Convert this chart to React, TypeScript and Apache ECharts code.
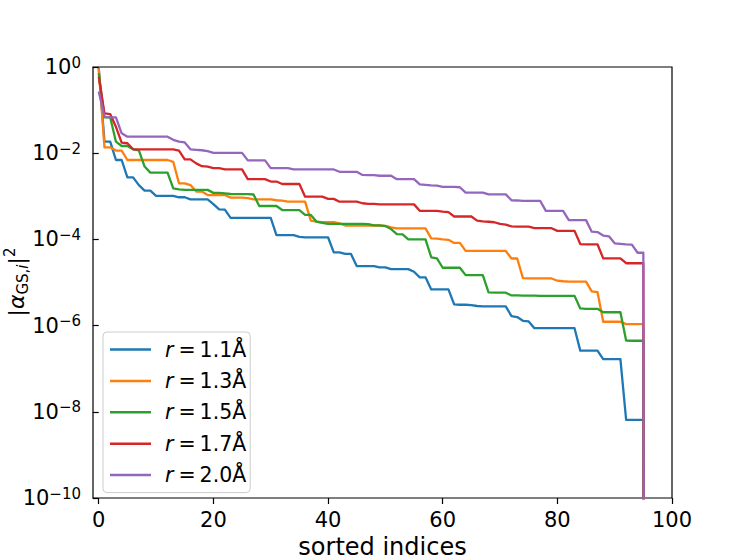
import React, { useEffect, useRef } from "react";
import * as echarts from "echarts";

const FONT = "DejaVu Sans";

const seriesNames = ["r = 1.1Å", "r = 1.3Å", "r = 1.5Å", "r = 1.7Å", "r = 2.0Å"];
const colors = ["#1f77b4", "#ff7f0e", "#2ca02c", "#d62728", "#9467bd"];

const xTicks = [0, 20, 40, 60, 80, 100];
const yTicks = [1e-10, 1e-8, 1e-6, 1e-4, 1e-2, 1];

const r11 = [
  0.95, 1.85e-2, 1.85e-2, 6.95e-3, 6.95e-3, 2.75e-3, 2.75e-3, 1.82e-3, 1.35e-3, 1.35e-3,
  1.02e-3, 1.02e-3, 1.02e-3, 1.02e-3, 9.5e-4, 9.5e-4, 8.5e-4, 8.5e-4, 8.5e-4, 8.5e-4,
  6.6e-4, 5.0e-4, 4.9e-4, 3.16e-4, 3.16e-4, 3.16e-4, 3.16e-4, 3.16e-4, 3.16e-4, 3.16e-4,
  3.16e-4, 1.26e-4, 1.26e-4, 1.26e-4, 1.26e-4, 1.15e-4, 1.12e-4, 1.12e-4, 1.12e-4, 1.12e-4,
  1.12e-4, 5.0e-5, 5.0e-5, 4.6e-5, 4.6e-5, 2.4e-5, 2.4e-5, 2.4e-5, 2.4e-5, 2.24e-5,
  2.24e-5, 2.04e-5, 2.04e-5, 2.04e-5, 2.04e-5, 1.78e-5, 1.32e-5, 1.32e-5, 6.9e-6, 6.9e-6,
  6.9e-6, 6.9e-6, 3.1e-6, 3.05e-6, 3.05e-6, 3.0e-6, 2.85e-6, 2.8e-6, 2.8e-6, 2.8e-6,
  2.8e-6, 2.8e-6, 1.66e-6, 1.58e-6, 1.29e-6, 1.25e-6, 8.7e-7, 8.7e-7, 8.7e-7, 8.7e-7,
  8.7e-7, 8.7e-7, 8.7e-7, 8.7e-7, 2.63e-7, 2.63e-7, 2.63e-7, 2.63e-7, 1.66e-7, 1.66e-7,
  1.66e-7, 1.66e-7, 6.5e-9, 6.5e-9, 6.5e-9, 6.5e-9, 1e-100,
];

const r13 = [
  0.93, 1.37e-2, 1.37e-2, 1.15e-2, 1.15e-2, 6.95e-3, 6.95e-3, 6.95e-3, 6.95e-3, 6.95e-3,
  6.95e-3, 6.95e-3, 6.95e-3, 6.3e-3, 2.0e-3, 2.0e-3, 1.82e-3, 1.29e-3, 1.29e-3, 1.07e-3,
  1.07e-3, 1.07e-3, 1.07e-3, 9.3e-4, 9.3e-4, 9.3e-4, 9.1e-4, 8.5e-4, 8.5e-4, 8.5e-4,
  8.5e-4, 8.1e-4, 7.9e-4, 7.5e-4, 7.5e-4, 7.5e-4, 7.5e-4, 2.72e-4, 2.57e-4, 2.5e-4,
  2.5e-4, 2.5e-4, 2.35e-4, 2.1e-4, 2.1e-4, 2.1e-4, 2.1e-4, 2.1e-4, 2.1e-4, 2.1e-4,
  2.05e-4, 1.9e-4, 1.8e-4, 1.8e-4, 1.8e-4, 1.8e-4, 1.8e-4, 1.8e-4, 1.06e-4, 1.04e-4,
  1.0e-4, 9.8e-5, 8.3e-5, 8.3e-5, 5.4e-5, 5.4e-5, 5.4e-5, 5.4e-5, 5.4e-5, 5.4e-5,
  5.4e-5, 5.4e-5, 3.6e-5, 3.6e-5, 1.26e-5, 1.24e-5, 1.24e-5, 1.24e-5, 1.24e-5, 1.24e-5,
  1.1e-5, 1.07e-5, 1.05e-5, 1.05e-5, 1.05e-5, 1.05e-5, 6.2e-6, 6.0e-6, 1.23e-6, 1.23e-6,
  1.23e-6, 1.23e-6, 1.08e-6, 1.08e-6, 1.08e-6, 1.08e-6, 1e-100,
];

const r15 = [
  0.72, 6.8e-2, 6.8e-2, 1.85e-2, 1.47e-2, 1.47e-2, 1.23e-2, 1.17e-2, 4.9e-3, 3.55e-3,
  3.55e-3, 3.55e-3, 3.55e-3, 1.53e-3, 1.45e-3, 1.41e-3, 1.41e-3, 1.41e-3, 1.41e-3, 1.41e-3,
  1.2e-3, 1.2e-3, 1.17e-3, 1.13e-3, 1.12e-3, 1.12e-3, 1.12e-3, 1.1e-3, 5.96e-4, 5.96e-4,
  5.96e-4, 5.96e-4, 4.8e-4, 4.8e-4, 4.8e-4, 4.8e-4, 3.7e-4, 3.7e-4, 2.57e-4, 2.43e-4,
  2.29e-4, 2.29e-4, 2.29e-4, 2.29e-4, 2.29e-4, 2.29e-4, 2.29e-4, 2.25e-4, 2.11e-4, 2.11e-4,
  2.04e-4, 1.74e-4, 1.33e-4, 1.31e-4, 1.0e-4, 1.0e-4, 1.0e-4, 1.0e-4, 3.85e-5, 3.63e-5,
  2.2e-5, 2.2e-5, 2.2e-5, 2.2e-5, 1.48e-5, 1.48e-5, 1.48e-5, 1.48e-5, 5.9e-6, 5.8e-6,
  5.8e-6, 5.8e-6, 5.0e-6, 5.0e-6, 4.95e-6, 4.95e-6, 4.95e-6, 4.9e-6, 4.9e-6, 4.9e-6,
  4.9e-6, 4.9e-6, 4.9e-6, 4.9e-6, 2.5e-6, 2.45e-6, 2.45e-6, 2.45e-6, 2.04e-6, 2.04e-6,
  2.04e-6, 2.04e-6, 4.5e-7, 4.45e-7, 4.45e-7, 4.45e-7, 1e-100,
];

const r17 = [
  0.6, 8.4e-2, 8.1e-2, 4.1e-2, 1.75e-2, 1.7e-2, 1.23e-2, 1.23e-2, 1.23e-2, 1.23e-2,
  1.23e-2, 1.23e-2, 1.23e-2, 1.23e-2, 1.15e-2, 7.2e-3, 7.2e-3, 5.8e-3, 5.0e-3, 4.9e-3,
  4.5e-3, 4.5e-3, 4.2e-3, 4.2e-3, 4.2e-3, 4.2e-3, 2.5e-3, 2.5e-3, 2.5e-3, 2.5e-3,
  2.2e-3, 2.2e-3, 1.93e-3, 1.93e-3, 1.93e-3, 1.93e-3, 9.8e-4, 9.8e-4, 9.8e-4, 9.8e-4,
  8.7e-4, 8.7e-4, 7.5e-4, 7.5e-4, 7.5e-4, 7.5e-4, 6.9e-4, 6.7e-4, 6.7e-4, 6.5e-4,
  6.5e-4, 6.5e-4, 6.5e-4, 6.5e-4, 6.5e-4, 6.5e-4, 4.6e-4, 4.6e-4, 4.6e-4, 4.6e-4,
  4.4e-4, 4.3e-4, 3.4e-4, 3.4e-4, 3.4e-4, 3.4e-4, 2.72e-4, 2.63e-4, 2.57e-4, 2.5e-4,
  2.29e-4, 2.2e-4, 2.0e-4, 1.97e-4, 1.97e-4, 1.97e-4, 1.82e-4, 1.82e-4, 1.82e-4, 1.82e-4,
  1.58e-4, 1.58e-4, 1.58e-4, 1.58e-4, 7.8e-5, 7.7e-5, 7.7e-5, 7.7e-5, 3.63e-5, 3.63e-5,
  3.63e-5, 3.63e-5, 2.8e-5, 2.8e-5, 2.8e-5, 2.8e-5, 1e-100,
];

const r20 = [
  0.27, 7.0e-2, 6.8e-2, 6.8e-2, 2.9e-2, 2.42e-2, 2.42e-2, 2.42e-2, 2.42e-2, 2.42e-2,
  2.42e-2, 2.42e-2, 2.42e-2, 2.04e-2, 1.86e-2, 1.78e-2, 1.23e-2, 1.2e-2, 1.17e-2, 1.12e-2,
  1.02e-2, 1.02e-2, 1.02e-2, 1.02e-2, 1.02e-2, 1.02e-2, 6.8e-3, 6.8e-3, 6.8e-3, 6.8e-3,
  4.5e-3, 4.5e-3, 4.5e-3, 4.5e-3, 4.2e-3, 4.2e-3, 4.2e-3, 4.2e-3, 4.2e-3, 4.2e-3,
  4.2e-3, 4.2e-3, 3.7e-3, 3.7e-3, 3.7e-3, 3.7e-3, 3.13e-3, 3.1e-3, 3.1e-3, 3.0e-3,
  3.0e-3, 3.0e-3, 2.5e-3, 2.5e-3, 2.5e-3, 2.5e-3, 1.9e-3, 1.85e-3, 1.8e-3, 1.77e-3,
  1.66e-3, 1.66e-3, 1.66e-3, 1.62e-3, 1.22e-3, 1.22e-3, 1.22e-3, 1.22e-3, 1.11e-3, 1.11e-3,
  1.11e-3, 1.11e-3, 8.1e-4, 8.0e-4, 7.8e-4, 7.8e-4, 7.8e-4, 7.8e-4, 4.6e-4, 4.6e-4,
  4.6e-4, 4.6e-4, 2.8e-4, 2.8e-4, 2.8e-4, 2.8e-4, 1.51e-4, 1.48e-4, 1.23e-4, 1.18e-4,
  8.1e-5, 7.9e-5, 7.7e-5, 7.6e-5, 4.9e-5, 4.9e-5, 1e-100,
];

const allValues = [r11, r13, r15, r17, r20];

export default function App() {
  const ref = useRef<HTMLDivElement>(null);

  useEffect(() => {
    document.body.style.margin = "0";
    if (!ref.current) return;
    const chart = echarts.init(ref.current, undefined, { renderer: "svg" });

    const tickLine = { color: "#000", width: 1.2 };

    const option: any = {
      animation: false,
      backgroundColor: "#ffffff",
      grid: {
        left: 93,
        right: 75,
        top: 67,
        bottom: 62,
        show: true,
        borderColor: "#000",
        borderWidth: 1.2,
        backgroundColor: "transparent",
        containLabel: false,
        outerBoundsMode: "none",
      },
      xAxis: {
        type: "value",
        min: -1,
        max: 100,
        name: "sorted indices",
        nameLocation: "middle",
        nameGap: 24,
        nameTextStyle: { fontFamily: FONT, fontSize: 24, color: "#000" },
        axisLine: { show: false },
        splitLine: { show: false },
        axisTick: { show: true, inside: false, length: 6, customValues: xTicks, lineStyle: tickLine },
        axisLabel: { customValues: xTicks, margin: 11, fontFamily: FONT, fontSize: 21, color: "#000" },
      },
      yAxis: {
        type: "log",
        logBase: 10,
        min: 1e-10,
        max: 1,
        axisLine: { show: false },
        splitLine: { show: false },
        minorTick: { show: false },
        axisTick: { show: true, inside: false, length: 6, customValues: yTicks, lineStyle: tickLine },
        axisLabel: {
          customValues: yTicks,
          margin: 12,
          color: "#000",
          formatter: (v: number) => {
            const e = Math.round(Math.log10(v));
            return `{b|10}{s|${e < 0 ? "\u2212" + -e : e}}`;
          },
          rich: {
            b: { fontFamily: FONT, fontSize: 21, lineHeight: 24, color: "#000" },
            s: { fontFamily: FONT, fontSize: 15, lineHeight: 15, verticalAlign: "top", color: "#000" },
          },
        },
      },
      legend: {
        orient: "vertical",
        left: 103,
        top: 332,
        data: seriesNames,
        icon: "rect",
        itemWidth: 41,
        itemHeight: 2.5,
        itemGap: 10.4,
        padding: [7, 4, 7, 7],
        borderColor: "#cccccc",
        borderWidth: 1,
        borderRadius: 4,
        backgroundColor: "rgba(255,255,255,0.8)",
        formatter: (name: string) => `{r|r}{e|=}{t|${name.split("= ")[1]}}`,
        textStyle: {
          fontFamily: FONT,
          fontSize: 20.5,
          color: "#000",
          rich: {
            r: { fontFamily: FONT, fontSize: 20.5, fontStyle: "italic", lineHeight: 20, padding: [0, 5, 0, 9], color: "#000" },
            e: { fontFamily: FONT, fontSize: 20.5, lineHeight: 20, padding: [0, 4, 0, 0], color: "#000" },
            t: { fontFamily: FONT, fontSize: 20.5, lineHeight: 20, color: "#000" },
          },
        },
      },
      graphic: [
        {
          type: "text",
          x: 16,
          y: 282,
          rotation: Math.PI / 2,
          style: {
            text: "{m||}{a|α}{s|GS,}{si|i}{m||}{p|2}",
            align: "center",
            verticalAlign: "middle",
            fill: "#000",
            rich: {
              m: { fontFamily: FONT, fontSize: 22, lineHeight: 28, fill: "#000" },
              a: { fontFamily: FONT, fontSize: 22, fontStyle: "italic", lineHeight: 28, fill: "#000" },
              s: { fontFamily: FONT, fontSize: 15, lineHeight: 14, verticalAlign: "bottom", fill: "#000" },
              si: { fontFamily: FONT, fontSize: 15, fontStyle: "italic", lineHeight: 14, verticalAlign: "bottom", fill: "#000" },
              p: { fontFamily: FONT, fontSize: 15, lineHeight: 14, verticalAlign: "top", fill: "#000" },
            },
          },
        },
      ],
      series: allValues.map((vals, k) => ({
        name: seriesNames[k],
        type: "line",
        data: vals.map((v, i) => [i, v]),
        showSymbol: false,
        symbol: "none",
        clip: true,
        color: colors[k],
        lineStyle: { color: colors[k], width: 2.3, join: "round", cap: "butt" },
        emphasis: { disabled: true },
      })),
    };

    chart.setOption(option);
    return () => chart.dispose();
  }, []);

  return (
    <div
      ref={ref}
      style={{ position: "fixed", left: 0, top: 0, width: 747, height: 560, background: "#fff" }}
    />
  );
}
